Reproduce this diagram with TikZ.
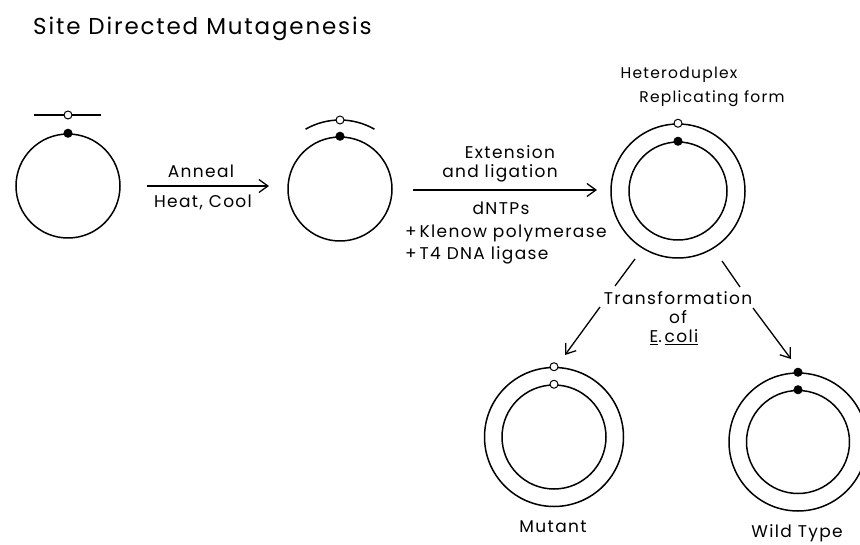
\documentclass[tikz,border=0pt]{standalone}
\usepackage{fontspec}
\setmainfont{Poppins}[LetterSpace=8]
\usetikzlibrary{arrows.meta}
\begin{document}
\begin{tikzpicture}[x=1pt,y=-1pt,
  strand/.style={line width=1.5pt},
  plasmid/.style={circle,draw,line width=1.5pt,inner sep=0pt},
  wt/.style={circle,fill=black,draw=black,line width=1pt,minimum size=8pt,inner sep=0pt},
  mut/.style={circle,fill=white,draw=black,line width=1pt,minimum size=8pt,inner sep=0pt},
  lbl/.style={font=\fontsize{17}{19}\selectfont,inner sep=0pt},
  small/.style={font=\fontsize{15.5}{18}\selectfont,inner sep=0pt},
  flow/.style={line width=1.3pt,-{Straight Barb[length=9pt,width=13pt,line width=1.3pt]}},
  split/.style={line width=1.3pt}]
\useasboundingbox (0,0) rectangle (860,545);

% title
\node[font=\fontsize{23}{26}\selectfont,anchor=west,inner sep=0pt] (title) at (33,29) {Site Directed Mutagenesis};

% single-stranded template and free primer
\node[plasmid,minimum size=104pt] (c1) at (68,186) {};
\node[wt] (c1d) at (c1.north) {};
\coordinate (p1a) at (34,115);
\coordinate (p1b) at (101,115);
\draw[strand] (p1a) -- (p1b);
\node[mut] (p1d) at (68,115) {};

% annealed primer
\node[plasmid,minimum size=104pt] (c2) at (340,189) {};
\node[wt] (c2d) at (c2.north) {};
\draw[strand] (c2.center) ++(240:69) arc[start angle=240,end angle=300,radius=69];
\node[mut] (c2p) at (340,120) {};

% heteroduplex
\node[plasmid,minimum size=134pt] (h) at (678,191) {};
\node[plasmid,minimum size=98pt] (hi) at (678,191) {};
\node[mut] (hd1) at (h.north) {};
\node[wt] (hd2) at (hi.north) {};
\node[small] (het) at (679,75) {Heteroduplex};
\node[small] (rep) at (712,99) {Replicating form};

% progeny
\node[plasmid,minimum size=139pt] (m) at (554,437) {};
\node[plasmid,minimum size=104pt] (mi) at (554,437) {};
\node[mut] (md1) at (m.north) {};
\node[mut] (md2) at (mi.north) {};
\node[plasmid,minimum size=138pt] (w) at (798,442) {};
\node[plasmid,minimum size=103pt] (wi) at (798,442) {};
\node[wt] (wd1) at (w.north) {};
\node[wt] (wd2) at (wi.north) {};
\node[lbl] (mlab) at (553,527) {Mutant};
\node[lbl] (wlab) at (797,533) {Wild Type};

% step 1
\coordinate (a1s) at (147,186);
\coordinate (a1e) at (269,186);
\draw[flow] (a1s) -- (a1e);
\node[lbl] (ann) at (201,171) {Anneal};
\node[lbl] (heat) at (203,202) {Heat, Cool};

% step 2
\coordinate (a2s) at (413,190);
\coordinate (a2e) at (597,190);
\draw[flow] (a2s) -- (a2e);
\node[lbl] (ext) at (510,152) {Extension};
\node[lbl] (lig) at (500,173) {and ligation};
\node[lbl] (dntp) at (501,208) {dNTPs};
\node[lbl,anchor=west] (kle) at (405,233) {+\,Klenow polymerase};
\node[lbl,anchor=west] (t4) at (405,255) {+\,T4 DNA ligase};

% transformation
\node[lbl] (tr) at (678,298) {Transformation};
\node[lbl] (of) at (678,317) {of};
\node[lbl] (ec) at (674,337) {\underline{E}.\,\underline{coli}};
\coordinate (l1) at (635,259);
\coordinate (l2) at (615,286);
\coordinate (l3) at (600,307);
\coordinate (l4) at (565,355);
\draw[split] (l1) -- (l2);
\draw[flow] (l3) -- (l4);
\coordinate (r1) at (722,261);
\coordinate (r2) at (740,287);
\coordinate (r3) at (753,308);
\coordinate (r4) at (791,359);
\draw[split] (r1) -- (r2);
\draw[flow] (r3) -- (r4);
\end{tikzpicture}
\end{document}
